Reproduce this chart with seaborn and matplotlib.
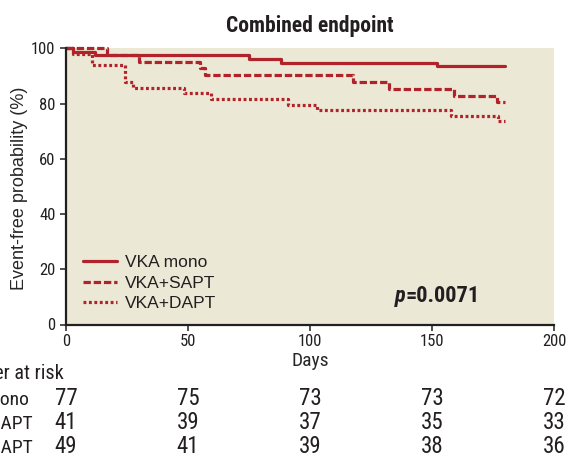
import numpy as np
import pandas as pd
import matplotlib
matplotlib.use("Agg")
import matplotlib.pyplot as plt
import matplotlib.transforms as mtransforms
from matplotlib import font_manager as fm
import seaborn as sns

# ---------------- data ----------------
groups = ["VKA mono", "VKA+SAPT", "VKA+DAPT"]

mono_days = [0, 3, 12, 75, 88, 152, 180]
mono_surv = [100, 98.7, 97.4, 96.1, 94.8, 93.5, 93.5]

sapt_days = [0, 17, 30, 55, 57, 117.5, 132.5, 159, 176.5, 180]
sapt_surv = [100, 97.6, 95.1, 92.7, 90.2, 87.8, 85.4, 82.9, 80.5, 80.5]

dapt_days = [0, 2.7, 10.5, 24, 27.3, 48.4, 59.3, 91, 103, 157.7, 177.2, 180]
dapt_surv = [100, 98.0, 93.9, 87.8, 85.7, 83.7, 81.6, 79.6, 77.6, 75.5, 73.5, 73.5]

risk_days = [0, 50, 100, 150, 200]
risk_mono = [77, 75, 73, 73, 72]
risk_sapt = [41, 39, 37, 35, 33]
risk_dapt = [49, 41, 39, 38, 36]

x_ticks = [0, 50, 100, 150, 200]
y_ticks = [0, 20, 40, 60, 80, 100]

title_text = "Combined endpoint"
x_label = "Days"
y_label = "Event-free probability (%)"
risk_title = "Number at risk"
p_value = "0.0071"

# ---------------- fonts: find a condensed sans if one is installed ----------------
names = {f.name for f in fm.fontManager.ttflist}
cands = ["Liberation Sans Narrow", "Noto Sans Condensed", "Roboto Condensed",
         "DejaVu Sans Condensed", "Open Sans Condensed", "Noto Sans SemiCondensed"]
NARROW = next((c for c in cands if c in names), None)
STRETCH = "normal"
WS = 1.0
if NARROW is None:
    cond = [f for f in fm.fontManager.ttflist
            if str(f.stretch) in ("condensed", "semi-condensed", "extra-condensed")]
    if cond:
        NARROW = cond[0].name
        STRETCH = str(cond[0].stretch)
    else:
        NARROW = "Liberation Sans"
        WS = 0.84
NARROW_FAM = [NARROW, "DejaVu Sans"]
SANS = ["Liberation Sans", "DejaVu Sans"]

RED = "#B0232A"
BEIGE = "#ECE8D6"
INK = "#231F20"

sns.set_style("ticks")
plt.rcParams["font.family"] = NARROW_FAM
plt.rcParams["font.stretch"] = STRETCH
plt.rcParams["axes.edgecolor"] = INK
plt.rcParams["xtick.color"] = INK
plt.rcParams["ytick.color"] = INK
plt.rcParams["text.color"] = INK

W, H = 566, 455
fig = plt.figure(figsize=(W / 100, H / 100), dpi=100)
ax_left, ax_right, ax_top, ax_bot = 66, 554, 48.3, 324.5
ax = fig.add_axes([ax_left / W, 1 - ax_bot / H, (ax_right - ax_left) / W, (ax_bot - ax_top) / H])
ax.set_facecolor(BEIGE)

frames = []
for g, d, s in zip(groups, [mono_days, sapt_days, dapt_days], [mono_surv, sapt_surv, dapt_surv]):
    frames.append(pd.DataFrame({"day": d, "surv": s, "group": g}))
df = pd.concat(frames, ignore_index=True)

sns.lineplot(
    data=df, x="day", y="surv", hue="group", style="group",
    hue_order=groups, style_order=groups,
    palette=[RED] * 3,
    dashes={"VKA mono": "", "VKA+SAPT": (2.3, 0.9), "VKA+DAPT": (0.9, 0.8)},
    estimator=None, errorbar=None, sort=True,
    drawstyle="steps-post", linewidth=2.3, clip_on=False, ax=ax,
)

ax.set_xlim(0, 200)
ax.set_ylim(0, 100)
ax.set_xticks(x_ticks)
ax.set_yticks(y_ticks)
for sp in ["top", "right"]:
    ax.spines[sp].set_visible(False)
for sp in ["left", "bottom"]:
    ax.spines[sp].set_linewidth(1.6)
ax.tick_params(axis="both", direction="out", length=4, width=1.1, labelsize=12 * WS)
ax.tick_params(axis="x", pad=3)
ax.tick_params(axis="y", pad=3.5)

ax.set_xlabel(x_label, fontsize=14 * WS, va="center")
ax.xaxis.set_label_coords(0.5, (ax_bot - 361) / (ax_bot - ax_top))
ax.set_ylabel(y_label, fontsize=13, family=SANS, stretch="normal", va="center")
ax.yaxis.set_label_coords((20 - ax_left) / (ax_right - ax_left), (ax_bot - 188) / (ax_bot - ax_top))

# title
fig.text(310 / W, 1 - 26 / H, title_text, ha="center", va="center",
         fontsize=15.5 * WS, fontweight="bold")

# legend
sns.move_legend(
    ax, loc="center left", bbox_to_anchor=(83 / W, 1 - 283 / H), bbox_transform=fig.transFigure,
    frameon=False, title=None, prop={"family": SANS, "size": 12.5, "stretch": "normal"},
    handlelength=1.95, handletextpad=0.46, labelspacing=0.3, borderpad=0, borderaxespad=0,
)
leg = ax.get_legend()
for t in leg.get_texts():
    t.set_color(INK)

# p value
p_t = ax.text((395 - ax_left) / (ax_right - ax_left) * 200, (ax_bot - 302) / (ax_bot - ax_top) * 100,
              "p", fontsize=16 * WS, fontweight="bold", fontstyle="italic", va="baseline", ha="left")
ax.annotate("=" + p_value, xy=(1, 0), xycoords=p_t, va="bottom", ha="left",
            fontsize=16 * WS, fontweight="bold")

# number at risk table
blend = mtransforms.blended_transform_factory(ax.transData, fig.transFigure)
row_base = [379, 405, 429, 453]
fs_tab = 16.5 * WS
fs_lab = 14 * WS
fig.text(64 / W, 1 - row_base[0] / H, risk_title, ha="right", va="baseline", fontsize=fs_lab + 0.5)
row_ends = [29, 33, 33]
for lab, vals, yb, xe in zip(groups, [risk_mono, risk_sapt, risk_dapt], row_base[1:], row_ends):
    fig.text(xe / W, 1 - yb / H, lab, ha="right", va="baseline", fontsize=fs_lab)
    for d, v in zip(risk_days, vals):
        ax.text(d, 1 - yb / H, str(v), transform=blend, ha="center", va="baseline",
                fontsize=fs_tab, clip_on=False)

fig.savefig("out.png", dpi=100)
